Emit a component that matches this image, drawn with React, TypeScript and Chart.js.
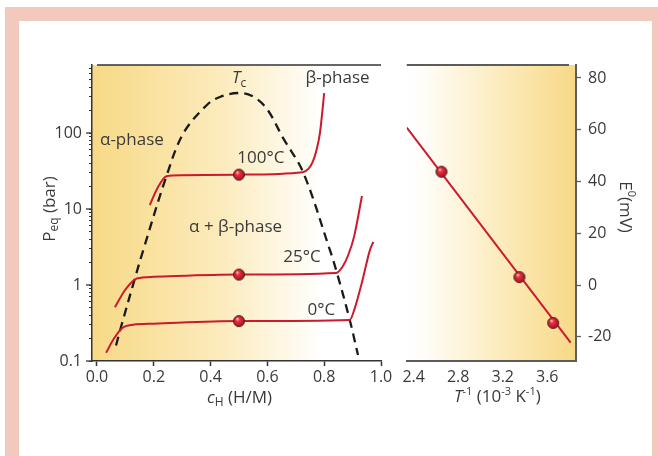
import { useEffect, useRef } from "react";
import { Chart, registerables } from "chart.js";

Chart.register(...registerables);

// ---------- data: left panel (pressure–composition isotherms) ----------
const xTicksLeft = [0, 0.2, 0.4, 0.6, 0.8, 1.0];
const yMajorLeft = [0.1, 1, 10, 100];

const domeX = [0.067, 0.0845, 0.134, 0.163, 0.245, 0.304, 0.387, 0.433, 0.496, 0.546, 0.597, 0.656, 0.726, 0.82, 0.845, 0.89, 0.919];
const domeP = [0.16, 0.28, 1.24, 2.89, 27.4, 99, 234, 298, 336, 307, 211, 85, 30.3, 2.89, 1.44, 0.347, 0.12];

const iso100X = [0.186, 0.215, 0.245, 0.3, 0.5, 0.724, 0.745, 0.76, 0.772, 0.785, 0.8];
const iso100P = [11.3, 19.5, 27, 27.8, 28.3, 30.5, 34, 42, 58, 100, 335];

const iso25X = [0.063, 0.099, 0.14, 0.2, 0.5, 0.842, 0.865, 0.885, 0.905, 0.933];
const iso25P = [0.51, 0.86, 1.22, 1.28, 1.37, 1.44, 1.75, 2.5, 4.3, 14.8];

const iso0X = [0.032, 0.057, 0.088, 0.127, 0.2, 0.5, 0.89, 0.908, 0.932, 0.961, 0.973];
const iso0P = [0.128, 0.19, 0.27, 0.3, 0.31, 0.335, 0.347, 0.5, 1.05, 2.88, 3.7];

const plateauX = [0.5, 0.5, 0.5];
const plateauP = [28.3, 1.37, 0.335];

// ---------- data: right panel (E0 vs 1/T) ----------
const invT = [2.65, 3.35, 3.653];
const e0 = [43.8, 3.1, -14.6];
const fitX = [2.338, 3.81];
const fitE = [60.8, -22.2];
const xTicksRight = [2.4, 2.8, 3.2, 3.6];
const yTicksRight = [-20, 0, 20, 40, 60, 80];

// ---------- annotation texts (left panel, data coordinates) ----------
const leftLabels = [
  { parts: [{ t: "α-phase" }], x: 0.0106, y: 81, align: "left" },
  { parts: [{ t: "100°C" }], x: 0.577, y: 46.9, align: "center" },
  { parts: [{ t: "α + β-phase" }], x: 0.488, y: 5.8, align: "center" },
  { parts: [{ t: "25°C" }], x: 0.722, y: 2.33, align: "center" },
  { parts: [{ t: "0°C" }], x: 0.79, y: 0.47, align: "center" },
  { parts: [{ t: "T", italic: true }, { t: "c", size: 12, dy: 5 }], x: 0.475, y: 520, align: "left" },
  { parts: [{ t: "β-phase" }], x: 0.847, y: 525, align: "center" },
];

const FONT = "'Open Sans', 'Liberation Sans', sans-serif";
const TEXT = "#3a3a3a";
const AXIS = "#333333";
const AXIS_R = "#5c5c5c";
const RED = "#cc1a2c";
const PINK = "#f2c9bc";
const YEL = "#f7d986";

type Part = { t: string; size?: number; italic?: boolean; dy?: number };

function drawRich(
  ctx: CanvasRenderingContext2D,
  parts: Part[],
  x: number,
  y: number,
  align: string,
  rotate = 0
) {
  ctx.save();
  ctx.translate(x, y);
  if (rotate) ctx.rotate(rotate);
  ctx.textBaseline = "middle";
  ctx.textAlign = "left";
  ctx.fillStyle = TEXT;
  const fonts = parts.map((p) => `${p.italic ? "italic " : ""}${p.size ?? 17}px ${FONT}`);
  const widths = parts.map((p, i) => {
    ctx.font = fonts[i];
    return ctx.measureText(p.t).width;
  });
  const total = widths.reduce((a, b) => a + b, 0);
  let cx = align === "center" ? -total / 2 : align === "right" ? -total : 0;
  parts.forEach((p, i) => {
    ctx.font = fonts[i];
    ctx.fillText(p.t, cx, p.dy ?? 0);
    cx += widths[i];
  });
  ctx.restore();
}

function makeSphere(r = 6) {
  const c = document.createElement("canvas");
  const s = r * 2 + 2;
  c.width = s;
  c.height = s;
  const ctx = c.getContext("2d")!;
  const cx = s / 2;
  const cy = s / 2;
  const g = ctx.createRadialGradient(cx - 1.8, cy - 2.4, 0.4, cx, cy, r);
  g.addColorStop(0, "#ffb0b4");
  g.addColorStop(0.3, "#e8303f");
  g.addColorStop(1, "#a00c1c");
  ctx.beginPath();
  ctx.arc(cx, cy, r - 0.5, 0, Math.PI * 2);
  ctx.fillStyle = g;
  ctx.fill();
  ctx.lineWidth = 1;
  ctx.strokeStyle = "#4a2626";
  ctx.stroke();
  return c;
}

const zip = (xs: number[], ys: number[]) => xs.map((x, i) => ({ x, y: ys[i] }));

function bgPlugin(stops: [number, string][]) {
  return {
    id: "bgGrad",
    beforeDraw(chart: any) {
      const { ctx, chartArea: a } = chart;
      const g = ctx.createLinearGradient(a.left, 0, a.right, 0);
      stops.forEach(([o, c]) => g.addColorStop(o, c));
      ctx.save();
      ctx.fillStyle = g;
      ctx.fillRect(a.left, a.top, a.right - a.left, a.bottom - a.top);
      ctx.restore();
    },
  };
}

const isPow10 = (v: number) => Math.abs(Math.log10(v) - Math.round(Math.log10(v))) < 1e-9;

export default function App() {
  const leftRef = useRef<HTMLCanvasElement>(null);
  const rightRef = useRef<HTMLCanvasElement>(null);

  useEffect(() => {
    const sphere = makeSphere(6);

    const leftDecor = {
      id: "leftDecor",
      afterDraw(chart: any) {
        const { ctx, chartArea: a, scales } = chart;
        const xs = scales.x;
        const ys = scales.y;
        ctx.save();
        ctx.strokeStyle = AXIS;
        ctx.lineWidth = 1.5;
        ctx.beginPath();
        ctx.moveTo(xs.getPixelForValue(0), a.top);
        ctx.lineTo(a.right, a.top);
        ctx.stroke();
        ctx.lineWidth = 1.3;
        yMajorLeft.forEach((v) => {
          const py = ys.getPixelForValue(v);
          ctx.beginPath();
          ctx.moveTo(a.left - 6, py);
          ctx.lineTo(a.left, py);
          ctx.stroke();
        });
        ctx.restore();
        leftLabels.forEach((l) =>
          drawRich(ctx, l.parts, xs.getPixelForValue(l.x), ys.getPixelForValue(l.y), l.align)
        );
        drawRich(
          ctx,
          [{ t: "P" }, { t: "eq", size: 12, dy: 5 }, { t: " (bar)" }],
          a.left - 42,
          (a.top + a.bottom) / 2 - 4,
          "center",
          -Math.PI / 2
        );
        drawRich(
          ctx,
          [{ t: "c", italic: true }, { t: "H", size: 12, dy: 5 }, { t: " (H/M)" }],
          (a.left + a.right) / 2 + 3,
          a.bottom + 37,
          "center"
        );
      },
    };

    const rightDecor = {
      id: "rightDecor",
      afterDraw(chart: any) {
        const { ctx, chartArea: a } = chart;
        ctx.save();
        ctx.strokeStyle = AXIS_R;
        ctx.lineWidth = 2;
        ctx.beginPath();
        ctx.moveTo(a.left, a.top);
        ctx.lineTo(a.right - 7, a.top);
        ctx.stroke();
        ctx.restore();
        drawRich(
          ctx,
          [
            { t: "T", italic: true },
            { t: "-1", size: 11, dy: -5 },
            { t: " (10" },
            { t: "-3", size: 11, dy: -5 },
            { t: " K" },
            { t: "-1", size: 11, dy: -5 },
            { t: ")" },
          ],
          (a.left + a.right) / 2 + 6,
          a.bottom + 36,
          "center"
        );
        drawRich(
          ctx,
          [{ t: "E" }, { t: "0", size: 11, dy: -6 }, { t: "(mV)" }],
          a.right + 49,
          (a.top + a.bottom) / 2 - 6,
          "center",
          Math.PI / 2
        );
      },
    };

    const tickFont = { family: FONT, size: 16 };

    const lineDs = (label: string, xs: number[], ys: number[], color: string, width: number) => ({
      label,
      data: zip(xs, ys),
      showLine: true,
      borderColor: color,
      borderWidth: width,
      pointRadius: 0,
      cubicInterpolationMode: "monotone",
      order: 2,
    });

    const c1 = new Chart(leftRef.current!, {
      type: "scatter",
      data: {
        datasets: [
          {
            label: "plateau",
            data: zip(plateauX, plateauP),
            showLine: false,
            pointStyle: sphere,
            pointRadius: 6,
            order: 0,
          } as any,
          {
            label: "dome",
            data: zip(domeX, domeP),
            showLine: true,
            borderColor: "#1a1a1a",
            borderWidth: 2.3,
            borderDash: [9, 6],
            pointRadius: 0,
            tension: 0.35,
            order: 3,
          },
          lineDs("100°C", iso100X, iso100P, RED, 2),
          lineDs("25°C", iso25X, iso25P, RED, 2),
          lineDs("0°C", iso0X, iso0P, RED, 2),
        ],
      },
      options: {
        animation: false,
        responsive: false,
        events: [],
        layout: { padding: { left: 0, top: 65, right: 19, bottom: 0 } },
        plugins: { legend: { display: false }, tooltip: { enabled: false } },
        scales: {
          x: {
            type: "linear",
            min: -0.0176,
            max: 1.0,
            afterBuildTicks: (s: any) => {
              s.ticks = xTicksLeft.map((v) => ({ value: v }));
            },
            afterFit: (s: any) => {
              s.height = 95;
            },
            ticks: {
              callback: (v: any) => Number(v).toFixed(1),
              font: tickFont,
              color: TEXT,
              padding: 2,
              autoSkip: false,
              maxRotation: 0,
            },
            grid: { drawOnChartArea: false, drawTicks: true, tickLength: 5, tickColor: AXIS, tickWidth: 1.5 },
            border: { display: true, color: AXIS, width: 1.5 },
          },
          y: {
            type: "logarithmic",
            min: 0.1,
            max: 785,
            afterBuildTicks: (s: any) => {
              const t: any[] = [];
              yMajorLeft.forEach((d) => {
                for (let m = 1; m <= 9; m++) {
                  const v = d * m;
                  if (v <= 785) t.push({ value: v, major: m === 1 });
                }
              });
              s.ticks = t;
            },
            afterFit: (s: any) => {
              s.width = 92;
            },
            ticks: {
              callback: (v: any) => (isPow10(Number(v)) ? String(Number(v)) : ""),
              font: tickFont,
              color: TEXT,
              padding: 7,
              autoSkip: false,
            },
            grid: { drawOnChartArea: false, drawTicks: true, tickLength: 3, tickColor: AXIS, tickWidth: 1 },
            border: { display: true, color: AXIS, width: 1.5 },
          },
        },
      } as any,
      plugins: [
        bgPlugin([
          [0, YEL],
          [0.45, "#fcebbd"],
          [0.8, "#ffffff"],
          [1, "#ffffff"],
        ]),
        leftDecor,
      ],
    });

    const c2 = new Chart(rightRef.current!, {
      type: "scatter",
      data: {
        datasets: [
          {
            label: "E0",
            data: zip(invT, e0),
            showLine: false,
            pointStyle: sphere,
            pointRadius: 6,
            order: 0,
          } as any,
          {
            label: "fit",
            data: zip(fitX, fitE),
            showLine: true,
            borderColor: RED,
            borderWidth: 2,
            pointRadius: 0,
            order: 1,
          },
        ],
      },
      options: {
        animation: false,
        responsive: false,
        events: [],
        layout: { padding: { left: 10, top: 65, right: 0, bottom: 0 } },
        plugins: { legend: { display: false }, tooltip: { enabled: false } },
        scales: {
          x: {
            type: "linear",
            min: 2.338,
            max: 3.858,
            afterBuildTicks: (s: any) => {
              s.ticks = xTicksRight.map((v) => ({ value: v }));
            },
            afterFit: (s: any) => {
              s.height = 95;
            },
            ticks: {
              callback: (v: any) => Number(v).toFixed(1),
              font: tickFont,
              color: TEXT,
              padding: 7,
              autoSkip: false,
              maxRotation: 0,
            },
            grid: { display: false, drawOnChartArea: false, drawTicks: false },
            border: { display: true, color: AXIS_R, width: 2 },
          },
          y: {
            type: "linear",
            position: "right",
            min: -29.3,
            max: 85,
            afterBuildTicks: (s: any) => {
              s.ticks = yTicksRight.map((v) => ({ value: v }));
            },
            afterFit: (s: any) => {
              s.width = 82;
            },
            ticks: {
              font: tickFont,
              color: TEXT,
              padding: 7,
              autoSkip: false,
            },
            grid: { drawOnChartArea: false, drawTicks: true, tickLength: 5, tickColor: AXIS_R, tickWidth: 1.3 },
            border: { display: true, color: AXIS_R, width: 2 },
          },
        },
      } as any,
      plugins: [
        bgPlugin([
          [0, "#ffffff"],
          [0.1, "#fffdf8"],
          [0.55, "#fcebbd"],
          [1, YEL],
        ]),
        rightDecor,
      ],
    });

    return () => {
      c1.destroy();
      c2.destroy();
    };
  }, []);

  return (
    <div
      style={{
        position: "fixed",
        left: 0,
        top: 0,
        width: 658,
        height: 456,
        background: "#ffffff",
        overflow: "hidden",
      }}
    >
      <div style={{ position: "absolute", left: 5, top: 7, width: 653, height: 449, background: PINK }} />
      <div style={{ position: "absolute", left: 19, top: 21, width: 633, height: 435, background: "#ffffff" }} />
      <canvas ref={leftRef} width={400} height={456} style={{ position: "absolute", left: 0, top: 0 }} />
      <canvas ref={rightRef} width={263} height={456} style={{ position: "absolute", left: 395, top: 0 }} />
    </div>
  );
}
